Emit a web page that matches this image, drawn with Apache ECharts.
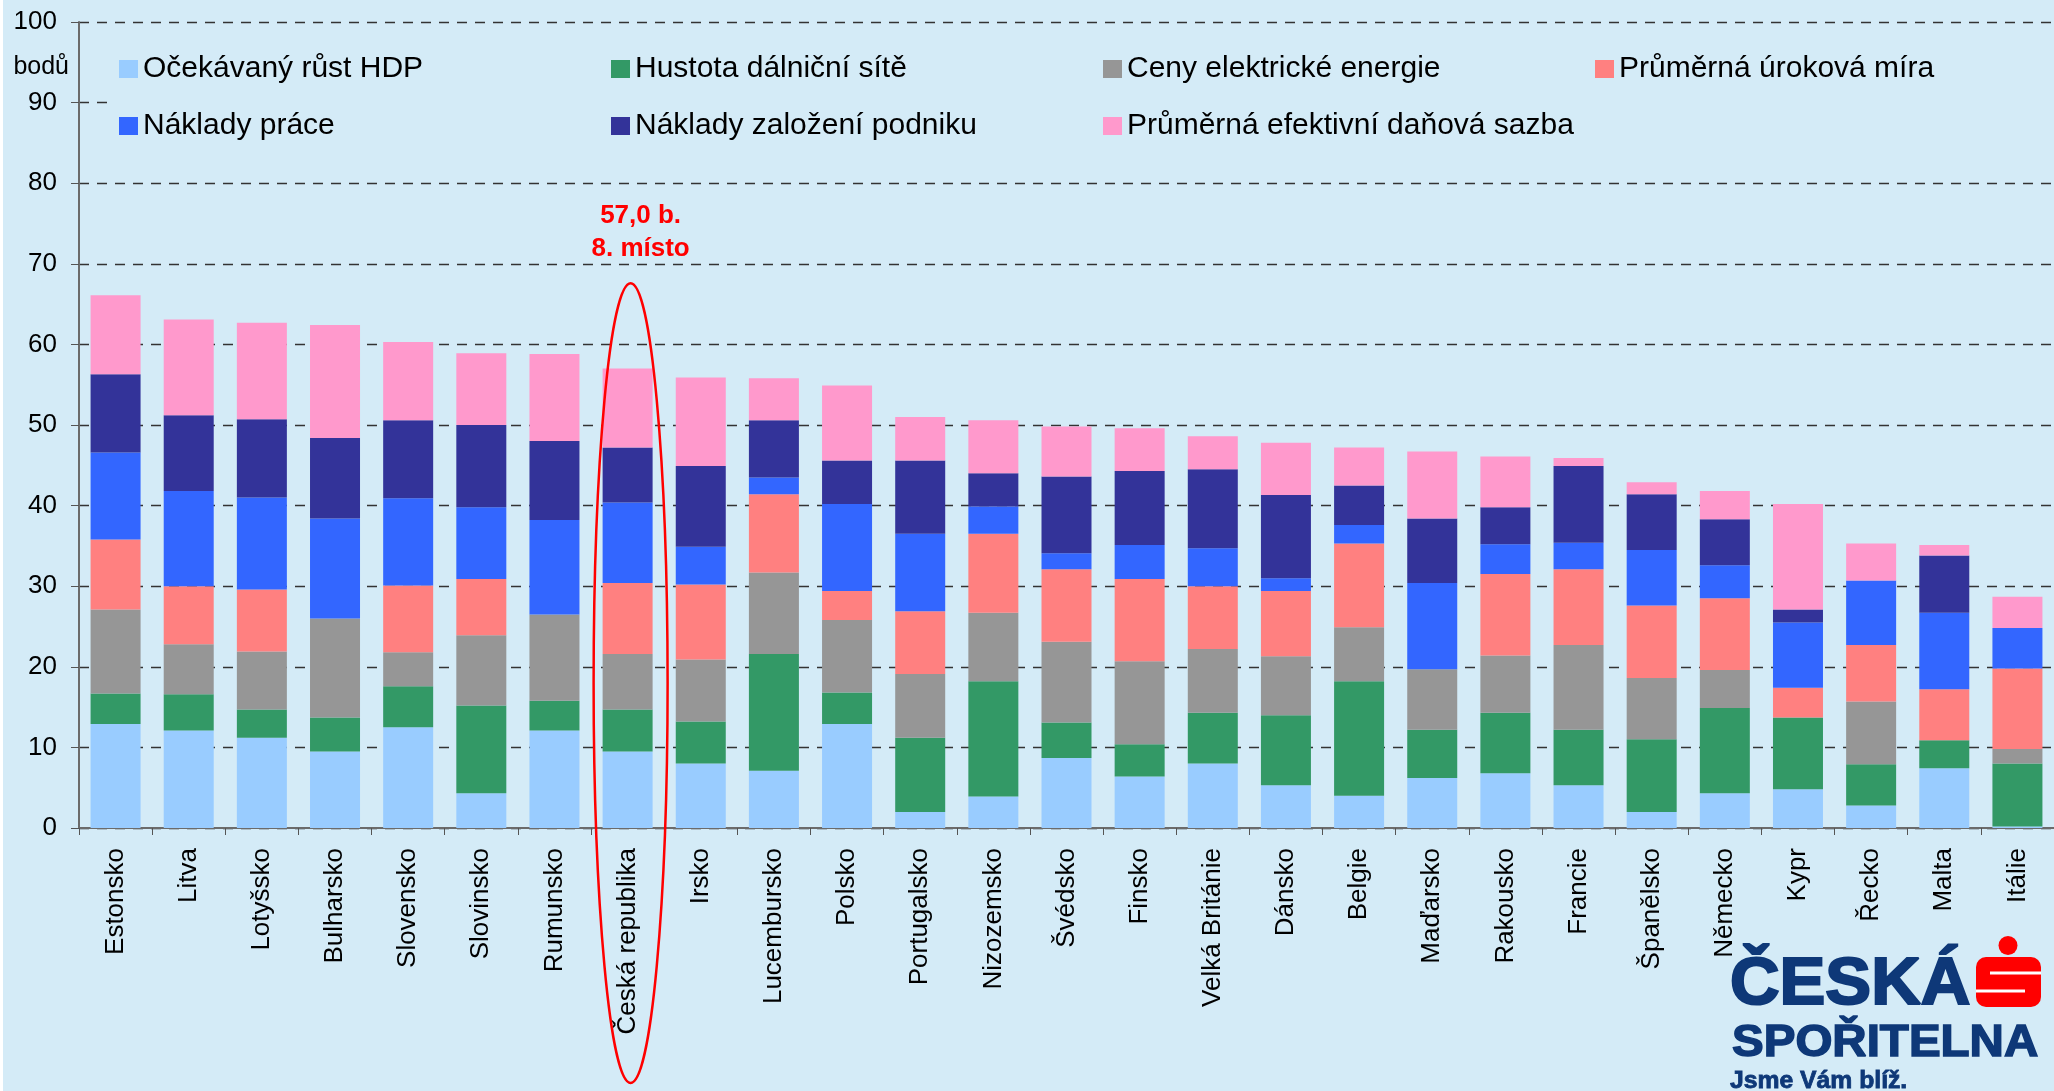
<!DOCTYPE html>
<html>
<head>
<meta charset="utf-8">
<script src="https://cdn.jsdelivr.net/npm/echarts@6/dist/echarts.min.js"></script>
<style>
	html, body { margin: 0; padding: 0; background: #ffffff; }
	#chart { position: absolute; left: 3px; top: 0; width: 2051px; height: 1091px; }
</style>
</head>
<body>
<div id="chart"></div>
<script>
var countries = ['Estonsko', 'Litva', 'Lotyšsko', 'Bulharsko', 'Slovensko', 'Slovinsko', 'Rumunsko',
	'Česká republika', 'Irsko', 'Lucembursko', 'Polsko', 'Portugalsko', 'Nizozemsko', 'Švédsko',
	'Finsko', 'Velká Británie', 'Dánsko', 'Belgie', 'Maďarsko', 'Rakousko', 'Francie', 'Španělsko',
	'Německo', 'Kypr', 'Řecko', 'Malta', 'Itálie'];

// points per component, bottom of the stack first
var rustHdp    = [12.9, 12.1, 11.2, 9.5, 12.5, 4.3, 12.1, 9.5, 8.0, 7.1, 12.9, 2.0, 3.9, 8.7, 6.4, 8.0, 5.3, 4.0, 6.2, 6.8, 5.3, 2.0, 4.3, 4.8, 2.8, 7.4, 0.2];
var dalnice    = [3.8, 4.5, 3.5, 4.2, 5.1, 10.9, 3.7, 5.2, 5.2, 14.5, 3.9, 9.2, 14.3, 4.4, 4.0, 6.3, 8.7, 14.2, 6.0, 7.5, 6.9, 9.0, 10.6, 8.9, 5.1, 3.5, 7.8];
var elektrina  = [10.4, 6.2, 7.2, 12.3, 4.2, 8.7, 10.7, 6.9, 7.7, 10.1, 9.0, 7.9, 8.5, 10.0, 10.3, 7.9, 7.3, 6.7, 7.5, 7.1, 10.5, 7.6, 4.7, 0, 7.8, 0, 1.8];
var urok       = [8.7, 7.2, 7.7, 0, 8.3, 7.0, 0, 8.8, 9.3, 9.7, 3.6, 7.8, 9.8, 9.0, 10.2, 7.8, 8.1, 10.4, 0, 10.1, 9.4, 9.0, 8.9, 3.7, 7.0, 6.3, 10.0];
var prace      = [10.8, 11.8, 11.4, 12.4, 10.8, 8.9, 11.7, 10.0, 4.7, 2.1, 10.8, 9.6, 3.4, 2.0, 4.2, 4.7, 1.6, 2.3, 10.7, 3.7, 3.3, 6.9, 4.1, 8.1, 8.0, 9.5, 5.0];
var zalozeni   = [9.7, 9.4, 9.7, 10.0, 9.7, 10.2, 9.8, 6.8, 10.0, 7.1, 5.4, 9.1, 4.1, 9.5, 9.2, 9.8, 10.3, 4.9, 8.0, 4.6, 9.5, 6.9, 5.7, 1.6, 0, 7.1, 0];
var dan        = [9.8, 11.9, 12.0, 14.0, 9.7, 8.9, 10.8, 9.8, 11.0, 5.2, 9.3, 5.4, 6.6, 6.2, 5.3, 4.1, 6.5, 4.7, 8.3, 6.3, 1.0, 1.5, 3.5, 13.1, 4.6, 1.3, 3.9];

var seriesNames = ['Očekávaný růst HDP', 'Hustota dálniční sítě', 'Ceny elektrické energie', 'Průměrná úroková míra',
	'Náklady práce', 'Náklady založení podniku', 'Průměrná efektivní daňová sazba'];
var seriesColors = ['#99CCFF', '#339966', '#969696', '#FF8080', '#3366FF', '#333399', '#FF99CC'];

var yTicks = [0, 10, 20, 30, 40, 50, 60, 70, 80, 90, 100];
var highlight = 'Česká republika';
var highlightText = ['57,0 b.', '8. místo'];

( function ( echarts ) {
	var bg = '#D4EBF7';
	var navy = '#0E3878';
	var font = 'Liberation Sans, Arial, sans-serif';
	var chart = echarts.init( document.getElementById( 'chart' ), null, { renderer: 'canvas' } );
	var values = [ rustHdp, dalnice, elektrina, urok, prace, zalozeni, dan ];

	function legend( names, top, padding ) {
		return {
			data: names,
			left: 108,
			top: top,
			orient: 'horizontal',
			width: 1940,
			icon: 'rect',
			itemWidth: 19,
			itemHeight: 18,
			itemGap: 48,
			padding: padding,
			backgroundColor: bg,
			selectedMode: false,
			textStyle: { fontFamily: font, fontSize: 30, lineHeight: 34, width: 420, color: '#000' }
		};
	}

	function logoText( text, x, y, size, sx ) {
		return {
			type: 'text', x: x, y: y, scaleX: sx,
			style: { text: text, x: 0, y: 0, fill: navy, stroke: navy, lineWidth: size / 30,
				font: 'bold ' + size + 'px ' + font, textVerticalAlign: 'bottom', verticalAlign: 'bottom' }
		};
	}

	var series = values.map( function ( data, i ) {
		return {
			name: seriesNames[i],
			type: 'bar',
			stack: 'total',
			barWidth: 50,
			data: data,
			itemStyle: { color: seriesColors[i] },
			emphasis: { disabled: true },
			animation: false
		};
	} );

	chart.setOption( {
		backgroundColor: bg,
		animation: false,
		textStyle: { fontFamily: font },
		grid: { left: 76, top: 22, width: 1983, height: 806, containLabel: false },
		legend: [
			legend( seriesNames.slice( 0, 4 ), 46, [ 6, 14, 11, 8 ] ),
			legend( seriesNames.slice( 4 ), 97, [ 12, 520, 14, 8 ] )
		],
		xAxis: {
			type: 'category',
			data: countries,
			axisLine: { lineStyle: { color: '#6b6b6b', width: 2 } },
			axisTick: { show: true, length: 7, lineStyle: { color: '#555' } },
			axisLabel: { interval: 0, rotate: 90, margin: 20, fontSize: 26, color: '#000', fontFamily: font },
			splitLine: { show: false }
		},
		yAxis: {
			type: 'value',
			min: yTicks[0],
			max: yTicks[yTicks.length - 1],
			interval: 10,
			name: 'bodů',
			nameLocation: 'end',
			nameGap: -58,
			nameTextStyle: { fontSize: 25, color: '#000', align: 'right', padding: [ 0, 10, 0, 0 ], fontFamily: font },
			axisLine: { show: true, lineStyle: { color: '#6b6b6b', width: 2 } },
			axisTick: { show: true, length: 8, lineStyle: { color: '#555' } },
			axisLabel: { fontSize: 26, margin: 22, color: '#000', fontFamily: font },
			splitLine: { show: true, lineStyle: { color: '#333', width: 1.3, type: [ 10, 8 ] } }
		},
		series: series
	} );

	// annotation around the Czech bar, placed from the axes
	var top = chart.convertToPixel( { gridIndex: 0 }, [ highlight, 67.6 ] );
	var t1 = chart.convertToPixel( { gridIndex: 0 }, [ highlight, 76.0 ] );
	var t2 = chart.convertToPixel( { gridIndex: 0 }, [ highlight, 71.8 ] );
	var bottomY = 1083;
	var cx = top[0] + 3;

	chart.setOption( {
		graphic: [
			{
				type: 'ellipse', z: 100, silent: true,
				shape: { cx: cx, cy: ( top[1] + bottomY ) / 2, rx: 37, ry: ( bottomY - top[1] ) / 2 },
				style: { fill: 'none', stroke: '#FF0000', lineWidth: 2.5 }
			},
			{
				type: 'text', z: 100, silent: true,
				style: { text: highlightText[0], x: t1[0] + 13, y: t1[1], fill: '#FF0000', font: 'bold 26px ' + font,
					textAlign: 'center', textVerticalAlign: 'middle', align: 'center', verticalAlign: 'middle' }
			},
			{
				type: 'text', z: 100, silent: true,
				style: { text: highlightText[1], x: t2[0] + 13, y: t2[1], fill: '#FF0000', font: 'bold 26px ' + font,
					textAlign: 'center', textVerticalAlign: 'middle', align: 'center', verticalAlign: 'middle' }
			},
			// bank logo
			{
				type: 'group', z: 100, silent: true,
				children: [
					logoText( 'ČESKÁ', 1727, 1019, 66, 1.04 ),
					logoText( 'SPOŘITELNA', 1729, 1066, 44, 1.08 ),
					logoText( 'Jsme Vám blíž.', 1727, 1093, 24, 1.03 ),
					{ type: 'rect', shape: { x: 1973, y: 957, width: 65, height: 50, r: 10 }, style: { fill: '#FF0000' } },
					{ type: 'rect', shape: { x: 1987, y: 971.5, width: 51, height: 3 }, style: { fill: '#FFFFFF' } },
					{ type: 'rect', shape: { x: 1973, y: 989.5, width: 49, height: 3 }, style: { fill: '#FFFFFF' } },
					{ type: 'circle', shape: { cx: 2005, cy: 945.5, r: 9.5 }, style: { fill: '#FF0000' } }
				]
			}
		]
	} );
}( echarts ) );
</script>
</body>
</html>
